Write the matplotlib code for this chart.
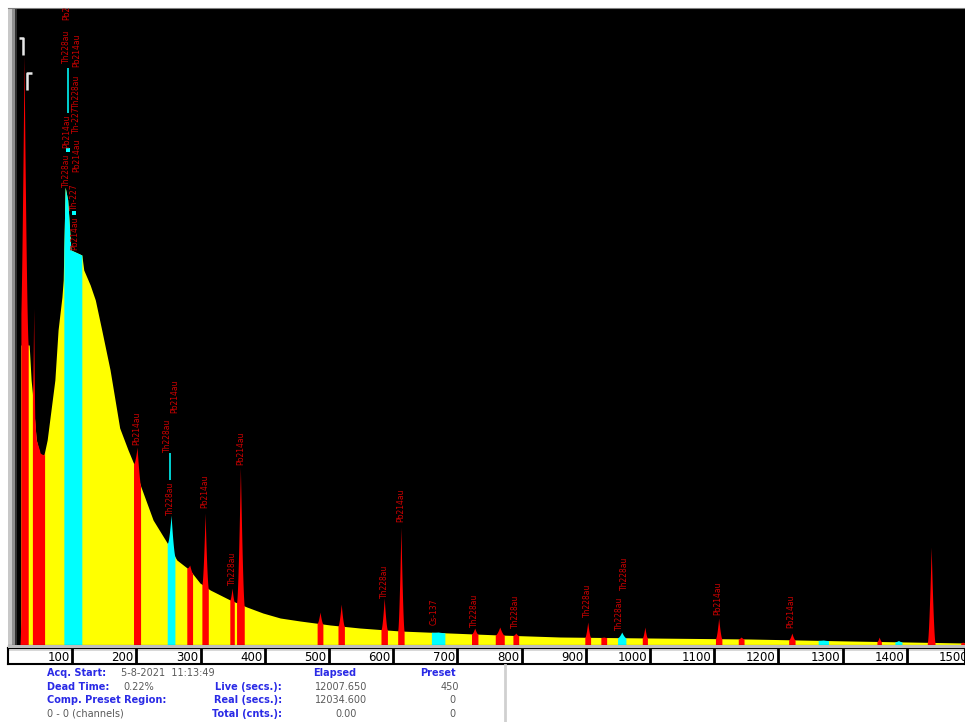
import matplotlib
matplotlib.use("Agg")
import matplotlib.pyplot as plt
from matplotlib.patches import Rectangle
import numpy as np

# spectrum continuum (channel -> counts)
cont_channels = [20, 33, 36, 39, 44, 50, 56, 61, 65, 73, 78, 84, 86, 89, 93,
                 98, 115, 118, 128, 136, 146, 159, 174, 187, 198, 206, 226,
                 248, 263, 283, 299, 315, 346, 372, 397, 424, 455, 502, 548,
                 611, 688, 766, 860, 1000, 1156, 1312, 1491]
cont_counts = [3000, 3000, 2650, 2450, 2050, 1900, 1900, 2050, 2250, 2650,
               3150, 3480, 3650, 4580, 4450, 3950, 3900, 3750, 3600, 3450,
               3150, 2750, 2170, 1950, 1780, 1600, 1250, 1020, 850, 750, 620,
               550, 450, 380, 320, 270, 240, 200, 170, 140, 120, 100, 80, 70,
               60, 40, 20]

# identified peaks (red regions)
red_channels = [25, 40, 49, 201, 283, 307, 349, 362, 486, 519, 586, 612, 727,
                766, 791, 903, 928, 992, 1107, 1142, 1221, 1357, 1438, 1487]
red_counts = [5900, 3370, 1950, 1980, 800, 1320, 570, 1780, 330, 410, 470,
              1180, 170, 180, 120, 230, 80, 180, 270, 80, 120, 80, 980, 30]
red_widths = [13, 4, 16, 11, 9, 10, 7, 12, 9, 10, 10, 10, 10, 14, 9, 9, 9, 8,
              10, 9, 10, 7, 12, 6]

# regions of interest (cyan)
cyan_channels = [101, 254, 670, 956, 1270, 1387]
cyan_counts = [3900, 1300, 130, 130, 50, 45]
cyan_widths = [28, 12, 21, 13, 16, 11]

# peak marker lines and dots inside the cyan regions
mark_channels = [93, 252]
mark_low = [5320, 1650]
mark_high = [5770, 1920]
dot_channels = [93, 103]
dot_counts = [4950, 4320]

# peak labels
label_channels = [91, 91, 91, 91, 107, 107, 107, 107, 104, 104, 201, 249,
                  259, 253, 307, 349, 362, 587, 612, 664, 727, 791, 903, 953,
                  961, 1106, 1220]
label_counts = [6250, 5820, 4970, 4580, 5780, 5370, 5120, 4730, 4350, 3950,
                2000, 1930, 2320, 1300, 1370, 600, 1800, 470, 1230, 200, 180,
                170, 280, 150, 550, 300, 170]
label_texts = ["Pb214au", "Th228au", "Pb214au", "Th228au", "Pb214au",
               "Th228au", "Th-227", "Pb214au", "Th-227", "Pb214au",
               "Pb214au", "Th228au", "Pb214au", "Th228au", "Pb214au",
               "Th228au", "Pb214au", "Th228au", "Pb214au", "Cs-137",
               "Th228au", "Th228au", "Th228au", "Th228au", "Th228au",
               "Pb214au", "Pb214au"]

tick_channels = list(range(100, 1600, 100))

W, H = 965, 722
CH_MAX = 1490.7
Y_MAX = 6370


def px(x, y):
    """Figure fraction for a pixel position (origin top left)."""
    return x / W, 1 - y / H


def peak_curve(center, height, width):
    """Channel grid and counts for one region drawn over the continuum."""
    xs = np.linspace(center - width / 2, center + width / 2, 81)
    base = np.interp(xs, cont_channels, cont_counts, left=0, right=0)
    base_c = np.interp(center, cont_channels, cont_counts, left=0, right=0)
    rise = max(height - base_c, 0)
    shape = np.clip(1 - np.abs(xs - center) / (width / 2), 0, 1) ** 1.6
    return xs, base + rise * shape


fig = plt.figure(figsize=(W / 100, H / 100), dpi=100)
fig.patch.set_facecolor("white")

# main spectrum window
x0, y0 = px(8, 645)
ax = fig.add_axes([x0, y0, (W - 8) / W, 637 / H])
ax.set_facecolor("black")
ax.set_xlim(0, CH_MAX)
ax.set_ylim(0, Y_MAX)
ax.set_xticks([])
ax.set_yticks([])
for side, spine in ax.spines.items():
    spine.set_visible(side in ("top", "bottom"))
    spine.set_color("#808080" if side == "top" else "black")

ax.fill_between(cont_channels, 0, cont_counts, color="#ffff00", lw=0)

for c, h, w in zip(cyan_channels, cyan_counts, cyan_widths):
    xs, ys = peak_curve(c, h, w)
    ax.fill_between(xs, 0, ys, color="#00ffff", lw=0)

for c, h, w in zip(red_channels, red_counts, red_widths):
    xs, ys = peak_curve(c, h, w)
    ax.fill_between(xs, 0, ys, color="#ff0000", lw=0)

ax.vlines(mark_channels, mark_low, mark_high, color="#00e0e0", lw=1.3)
ax.scatter(dot_channels, dot_counts, s=6, marker="s", color="#00ffff", lw=0)

for c, h, t in zip(label_channels, label_counts, label_texts):
    ax.text(c, h, t, rotation=90, ha="center", va="bottom", fontsize=5.5,
            color="#d00000", clip_on=True)

# ROI bracket markers near the top-left
ax.plot([17, 24, 24], [6070, 6070, 5900], color="#e8e8e8", lw=1.8,
        solid_capstyle="butt")
ax.plot([37, 30, 30], [5720, 5720, 5550], color="#e8e8e8", lw=1.8,
        solid_capstyle="butt")

# gray strip on the left edge
ax.axvspan(0, 6, color="#c8c8c8", lw=0)
ax.axvspan(6, 11, color="#909090", lw=0)
ax.axvspan(11, 13.5, color="#303030", lw=0)

# gray bevel between plot and channel scale
gx, gy = px(8, 648)
fig.add_artist(Rectangle((gx, gy), (W - 8) / W, 3 / H, color="#bdbdbd",
                         lw=0, transform=fig.transFigure))

# channel scale box
bx, by = px(8, 664)
ax_box = fig.add_axes([bx, by, (W - 8) / W, 16 / H])
ax_box.set_xlim(0, CH_MAX)
ax_box.set_ylim(0, 1)
ax_box.set_xticks([])
ax_box.set_yticks([])
ax_box.axhspan(0.8, 1, color="#d8d8d8", lw=0)
for spine in ax_box.spines.values():
    spine.set_linewidth(1.5)
ax_box.vlines(tick_channels, 0, 1, color="black", lw=2)
for t in tick_channels:
    ax_box.text(t - 4, 0.42, str(t), ha="right", va="center", fontsize=8.5,
                color="black", clip_on=False)

# acquisition info panel
blue = "#2a2ae6"
grey = "#5a5a5a"
info = [
    (47, 673, "Acq. Start:", "left", blue, "bold"),
    (121, 673, "5-8-2021  11:13:49", "left", grey, "normal"),
    (313, 673, "Elapsed", "left", blue, "bold"),
    (420, 673, "Preset", "left", blue, "bold"),
    (47, 687, "Dead Time:", "left", blue, "bold"),
    (123, 687, "0.22%", "left", grey, "normal"),
    (282, 687, "Live (secs.):", "right", blue, "bold"),
    (315, 687, "12007.650", "left", grey, "normal"),
    (459, 687, "450", "right", grey, "normal"),
    (47, 700, "Comp. Preset Region:", "left", blue, "bold"),
    (282, 700, "Real (secs.):", "right", blue, "bold"),
    (315, 700, "12034.600", "left", grey, "normal"),
    (456, 700, "0", "right", grey, "normal"),
    (47, 714, "0 - 0 (channels)", "left", grey, "normal"),
    (282, 714, "Total (cnts.):", "right", blue, "bold"),
    (335, 714, "0.00", "left", grey, "normal"),
    (456, 714, "0", "right", grey, "normal"),
]
for x, y, s, ha, col, wt in info:
    fx, fy = px(x, y)
    fig.text(fx, fy, s, ha=ha, va="center", fontsize=7, color=col,
             fontweight=wt)

lx, ly = px(505, 722)
fig.add_artist(plt.Line2D([lx, lx], [ly, px(0, 665)[1]], color="#d0d0d0",
                          lw=2))

fig.savefig("out.png", dpi=100)
